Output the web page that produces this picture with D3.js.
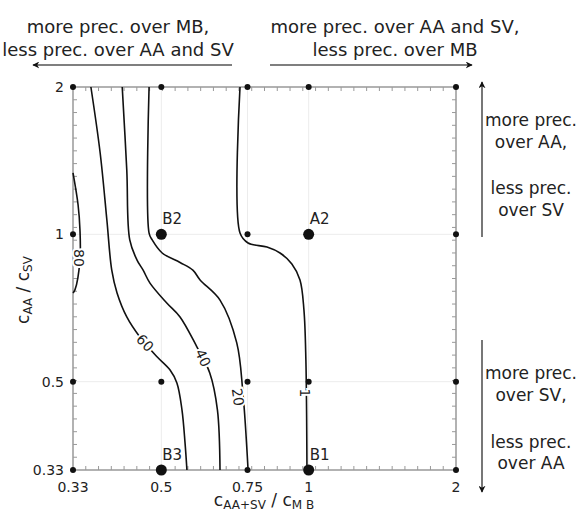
<html>
    <head>
        <title>Precision trade-off contours</title>
        <style>
            body { margin: 0; background: #fff; }
            text { font-family: "DejaVu Sans", sans-serif; fill: #222; }
            .frame { stroke: #999; stroke-width: 1.5px; fill: none; }
            .minor { stroke: #999; stroke-width: 1px; }
            .grid { stroke: #ececec; stroke-width: 1px; }
            .contour { stroke: #111; stroke-width: 1.6px; fill: none; }
            .clabel { font-size: 14px; paint-order: stroke; stroke: #fff; stroke-width: 4px; }
            .note { font-size: 17px; }
            .note.top { font-size: 18px; }
        </style>
    </head>
    <body>
        <svg></svg>

        <script src="https://d3js.org/d3.v7.min.js"></script>
        <script>
            // tick values and labels of both (log) axes
            const xTicks = [0.33, 0.5, 0.75, 1, 2];
            const xTickLabels = ["0.33", "0.5", "0.75", "1", "2"];
            const yTicks = [0.33, 0.5, 1, 2];
            const yTickLabels = ["0.33", "0.5", "1", "2"];

            // named design points
            const points = [
                {name: "B2", x: 0.5, y: 1},
                {name: "A2", x: 1, y: 1},
                {name: "B3", x: 0.5, y: 0.33},
                {name: "B1", x: 1, y: 0.33}
            ];

            // contour lines, as [c_AA+SV/c_MB, c_AA/c_SV] pairs
            const contour1 = [[0.724, 2], [0.724, 1.006], [0.752, 0.96], [0.822, 0.942], [0.874, 0.916],
                [0.924, 0.87], [0.96, 0.807], [0.978, 0.701], [0.987, 0.554], [0.992, 0.33]];
            const contour20 = [[0.472, 2], [0.472, 1.006], [0.479, 0.974], [0.502, 0.916], [0.546, 0.876],
                [0.58, 0.845], [0.6, 0.807], [0.659, 0.734], [0.713, 0.6], [0.734, 0.474], [0.752, 0.33]];
            const contour40 = [[0.416, 2], [0.425, 1.354], [0.431, 0.974], [0.446, 0.886], [0.459, 0.845],
                [0.474, 0.795], [0.513, 0.724], [0.546, 0.678], [0.591, 0.589], [0.628, 0.521],
                [0.651, 0.438], [0.659, 0.33]];
            const contour60 = [[0.359, 2], [0.375, 1.466], [0.387, 1.07], [0.396, 0.845], [0.406, 0.759],
                [0.425, 0.678], [0.452, 0.617], [0.49, 0.562], [0.521, 0.528], [0.538, 0.497],
                [0.551, 0.438], [0.559, 0.375], [0.564, 0.33]];
            const contour80 = [[0.33, 1.335], [0.338, 1.148], [0.341, 1.021], [0.341, 0.886],
                [0.333, 0.77], [0.33, 0.759]];

            // contour labels: text, where it sits, and the line direction there
            const contourLabels = [
                {text: "1", x: 0.982, y: 0.474, angle: 90},
                {text: "20", x: 0.717, y: 0.465, angle: 82},
                {text: "40", x: 0.608, y: 0.559, angle: 65},
                {text: "60", x: 0.463, y: 0.6, angle: 45},
                {text: "80", x: 0.339, y: 0.895, angle: 90}
            ];

            const width = 582,
            height = 513;

            const svg = d3.select("svg")
                .attr("width", width)
                .attr("height", height);

            // log scales on both axes, square plot area
            const x = d3.scaleLog().domain([0.33, 2]).range([73, 456]);
            const y = d3.scaleLog().domain([0.33, 2]).range([470, 87]);

            // faint grid lines through the inner ticks
            svg.selectAll(".gx")
                .data(xTicks.slice(1, -1))
                .join("line")
                .attr("class", "grid")
                .attr("x1", d => x(d)).attr("x2", d => x(d))
                .attr("y1", y(2)).attr("y2", y(0.33));
            svg.selectAll(".gy")
                .data(yTicks.slice(1, -1))
                .join("line")
                .attr("class", "grid")
                .attr("y1", d => y(d)).attr("y2", d => y(d))
                .attr("x1", x(0.33)).attr("x2", x(2));

            // minor ticks on all four sides, pointing inward
            const nMinor = 30;
            const minor = d3.range(1, nMinor).map(i => i / nMinor);
            const [x0, x1] = x.range(), [y0, y1] = y.range();
            const t = 4;
            minor.forEach(function(f) {
                const px = x0 + f * (x1 - x0), py = y0 + f * (y1 - y0);
                svg.append("line").attr("class", "minor").attr("x1", px).attr("x2", px).attr("y1", y0).attr("y2", y0 - t);
                svg.append("line").attr("class", "minor").attr("x1", px).attr("x2", px).attr("y1", y1).attr("y2", y1 + t);
                svg.append("line").attr("class", "minor").attr("y1", py).attr("y2", py).attr("x1", x0).attr("x2", x0 + t);
                svg.append("line").attr("class", "minor").attr("y1", py).attr("y2", py).attr("x1", x1).attr("x2", x1 - t);
            });

            // plot frame
            svg.append("rect")
                .attr("class", "frame")
                .attr("x", x0).attr("y", y1)
                .attr("width", x1 - x0).attr("height", y0 - y1);

            // tick labels
            svg.selectAll(".xl")
                .data(xTicks)
                .join("text")
                .attr("x", d => x(d))
                .attr("y", y0 + 22)
                .attr("text-anchor", "middle")
                .style("font-size", "14px")
                .text((d, i) => xTickLabels[i]);
            svg.selectAll(".yl")
                .data(yTicks)
                .join("text")
                .attr("x", x0 - 9)
                .attr("y", d => y(d) + 5)
                .attr("text-anchor", "end")
                .style("font-size", "14px")
                .text((d, i) => yTickLabels[i]);

            // axis titles with subscripts
            const xt = svg.append("text")
                .attr("x", 264).attr("y", 506)
                .attr("text-anchor", "middle")
                .style("font-size", "17px");
            xt.append("tspan").text("c");
            xt.append("tspan").attr("dy", 3).style("font-size", "12px").text("AA+SV");
            xt.append("tspan").attr("dy", -3).text(" / c");
            xt.append("tspan").attr("dy", 3).style("font-size", "12px").text("M B");

            const yt = svg.append("text")
                .attr("transform", "translate(29,290) rotate(-90)")
                .attr("text-anchor", "middle")
                .style("font-size", "17px");
            yt.append("tspan").text("c");
            yt.append("tspan").attr("dy", 3).style("font-size", "12px").text("AA");
            yt.append("tspan").attr("dy", -3).text(" / c");
            yt.append("tspan").attr("dy", 3).style("font-size", "12px").text("SV");

            // contour lines
            const line = d3.line()
                .x(d => x(d[0]))
                .y(d => y(d[1]))
                .curve(d3.curveCatmullRom.alpha(0.5));
            svg.selectAll(".contour")
                .data([contour1, contour20, contour40, contour60, contour80])
                .join("path")
                .attr("class", "contour")
                .attr("d", line);

            // contour labels along the lines
            svg.selectAll(".clabel")
                .data(contourLabels)
                .join("text")
                .attr("class", "clabel")
                .attr("text-anchor", "middle")
                .attr("dy", "0.35em")
                .attr("transform", d => "translate(" + x(d.x) + "," + y(d.y) + ") rotate(" + d.angle + ")")
                .text(d => d.text);

            // small dots on every tick crossing
            const grid = d3.cross(xTicks, yTicks);
            svg.selectAll(".dot")
                .data(grid)
                .join("circle")
                .attr("cx", d => x(d[0]))
                .attr("cy", d => y(d[1]))
                .attr("r", 3)
                .attr("fill", "#111");

            // named points: bigger dots with labels
            svg.selectAll(".big")
                .data(points)
                .join("circle")
                .attr("cx", d => x(d.x))
                .attr("cy", d => y(d.y))
                .attr("r", 5.5)
                .attr("fill", "#111");
            svg.selectAll(".plabel")
                .data(points)
                .join("text")
                .attr("x", d => x(d.x) + 1)
                .attr("y", d => y(d.y) - 10)
                .style("font-size", "15px")
                .text(d => d.name);

            // arrows with annotations
            const defs = svg.append("defs");
            defs.append("marker")
                .attr("id", "head")
                .attr("viewBox", "0 0 10 10")
                .attr("refX", 9).attr("refY", 5)
                .attr("markerWidth", 7).attr("markerHeight", 7)
                .attr("markerUnits", "userSpaceOnUse")
                .attr("orient", "auto")
                .append("path")
                .attr("d", "M0,0 L10,5 L0,10 L3,5 Z")
                .attr("fill", "#111");

            function arrow(xa, ya, xb, yb) {
                svg.append("line")
                    .attr("x1", xa).attr("y1", ya).attr("x2", xb).attr("y2", yb)
                    .attr("stroke", "#555").attr("stroke-width", 1.6)
                    .attr("marker-end", "url(#head)");
            }
            arrow(232, 65, 33, 65);
            arrow(270, 65, 472, 65);
            arrow(482, 237, 482, 82);
            arrow(482, 340, 482, 492);

            function note(cx, ys, lines, cls) {
                svg.append("g").selectAll("text")
                    .data(lines)
                    .join("text")
                    .attr("class", "note " + cls)
                    .attr("x", cx)
                    .attr("y", (d, i) => ys[i])
                    .attr("text-anchor", "middle")
                    .text(d => d);
            }
            note(118, [33, 56], ["more prec. over MB,", "less prec. over AA and SV"], "top");
            note(395, [33, 56], ["more prec. over AA and SV,", "less prec. over MB"], "top");
            note(531, [126, 148, 194, 216], ["more prec.", "over AA,", "less prec.", "over SV"], "side");
            note(531, [379, 401, 448, 469], ["more prec.", "over SV,", "less prec.", "over AA"], "side");
        </script>
    </body>
</html>
